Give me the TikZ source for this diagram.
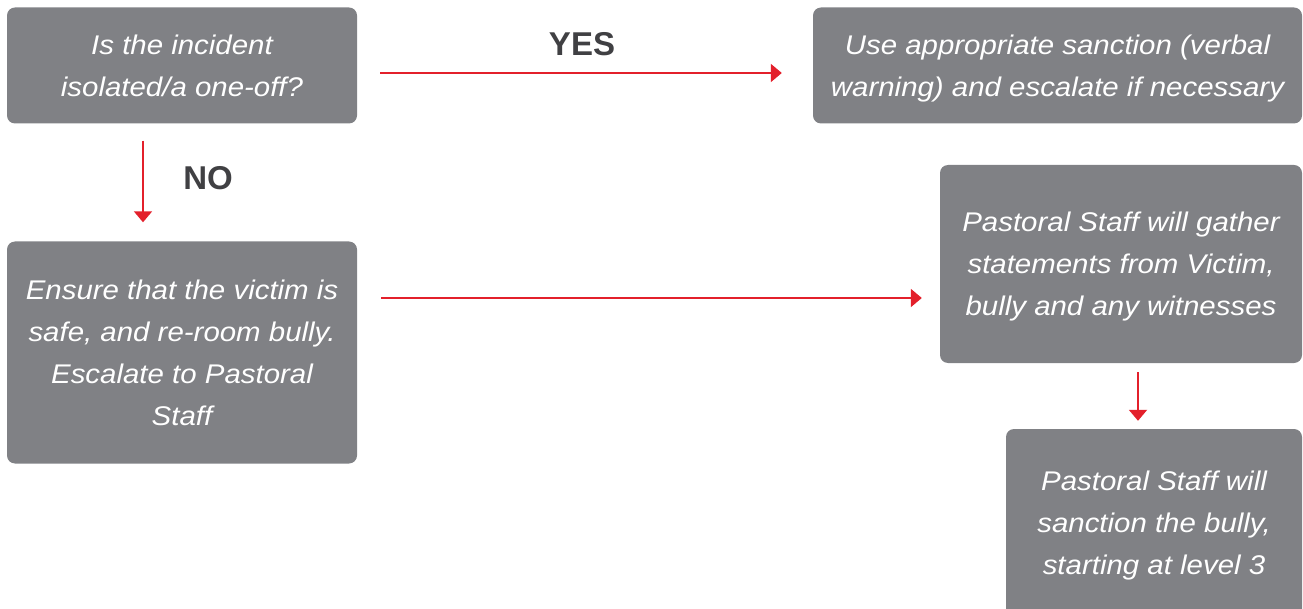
\documentclass[tikz,border=0pt]{standalone}
\usepackage{fontspec}
\setmainfont{Liberation Sans}
\newfontfamily\boxfont[FakeStretch=1.09]{Liberation Sans}
\usetikzlibrary{arrows.meta}
\definecolor{boxgrey}{HTML}{808185}
\definecolor{flowred}{HTML}{E3202B}
\definecolor{lblgrey}{HTML}{404043}

\begin{document}
\begin{tikzpicture}[x=1pt,y=-1pt,
    box/.style={fill=boxgrey,rounded corners=8pt,text=white,align=center,
      font=\boxfont\itshape\fontsize{27}{42}\selectfont,inner sep=0pt,text depth=0pt},
    flow/.style={draw=flowred,line width=2pt,-{Triangle[length=11pt,width=18pt]}},
    lbl/.style={text=lblgrey,font=\bfseries\fontsize{33}{36}\selectfont}]
          \clip (0,0) rectangle (1303,609);
          \node[box,minimum width=350pt,minimum height=116pt] (incident) at (182,65.5)
            {Is the incident\\isolated/a one-off?};
          \node[box,minimum width=489pt,minimum height=116pt] (sanction) at (1057.5,65.5)
            {Use appropriate sanction (verbal\\warning) and escalate if necessary};
          \node[box,minimum width=350pt,minimum height=222pt] (ensure) at (182,352.5)
            {Ensure that the victim is\\safe, and re-room bully.\\Escalate to Pastoral\\Staff};
          \node[box,minimum width=362pt,minimum height=198pt] (gather) at (1121,264)
            {Pastoral Staff will gather\\statements from Victim,\\bully and any witnesses};
          \node[box,minimum width=296pt,minimum height=188pt] (level) at (1154,523)
            {Pastoral Staff will\\sanction the bully,\\starting at level 3};
          \node[lbl] (yes) at (582,44) {YES};
          \node[lbl] (no) at (208,178) {NO};
          \draw[flow] ([shift={(23,7.5)}]incident.east) -- ([shift={(-31,7.5)}]sanction.west);
          \draw[flow] ([shift={(-39,17)}]incident.south) -- ([shift={(-39,-19)}]ensure.north);
          \draw[flow] ([shift={(24,-54.5)}]ensure.east) -- ([shift={(-18,34)}]gather.west);
          \draw[flow] ([shift={(17,9)}]gather.south) -- ([shift={(-16,-8)}]level.north);
        \end{tikzpicture}
\end{document}
